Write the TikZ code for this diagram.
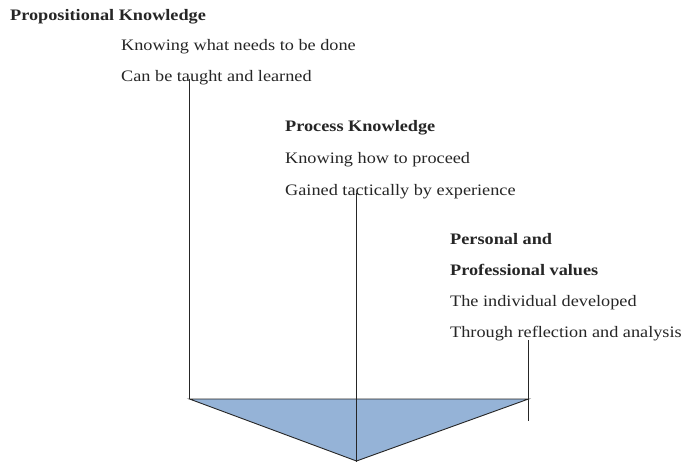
\documentclass[tikz,border=0pt]{standalone}
\usepackage{fontspec}
\setmainfont{Liberation Serif}[FakeStretch=1.14]
\definecolor{wedgefill}{HTML}{95B3D7}
\definecolor{inkline}{HTML}{262626}
\begin{document}
\begin{tikzpicture}[x=1pt,y=-1pt,
  txt/.style={anchor=base west,inner sep=0pt,font=\fontsize{16}{16}\selectfont,text=black!85},
  head/.style={txt,font=\fontsize{16}{16}\selectfont\bfseries},
  stem/.style={draw=inkline,line width=0.9pt}]
\useasboundingbox (0,0) rectangle (681,464);
\fill[white] (0,0) rectangle (681,464);

% Propositional knowledge
\node[head] (propT) at (10,20) {Propositional Knowledge};
\node[txt]  (propA) at (121,50) {Knowing what needs to be done};
\node[txt]  (propB) at (121,81) {Can be taught and learned};

% Process knowledge
\node[head] (procT) at (285,131) {Process Knowledge};
\node[txt]  (procA) at (285,163) {Knowing how to proceed};
\node[txt]  (procB) at (285,195) {Gained tactically by experience};

% Personal and professional values
\node[head] (persT) at (450,244) {Personal and};
\node[head] (persU) at (450,275) {Professional values};
\node[txt]  (persA) at (450,306) {The individual developed};
\node[txt]  (persB) at (450,337) {Through reflection and analysis};

% wedge corners
\coordinate (wl) at (189.5,399);
\coordinate (wr) at (528.5,399);
\coordinate (wb) at (356.5,461);
\filldraw[fill=wedgefill,draw=inkline,line width=0.9pt,line join=miter] (wl) -- (wr) -- (wb) -- cycle;

% stems from the text blocks
\coordinate (s1) at (189.5,79);
\coordinate (s2) at (356,193);
\coordinate (s2b) at (356,462);
\coordinate (s3) at (528.5,340);
\coordinate (s3b) at (528.5,421);
\draw[stem] (s1) -- (wl);
\draw[stem] (s2) -- (s2b);
\draw[stem] (s3) -- (s3b);
\end{tikzpicture}
\end{document}
